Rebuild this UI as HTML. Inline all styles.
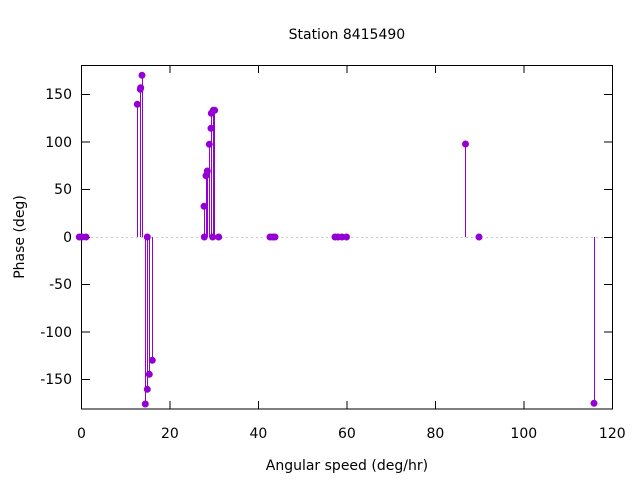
<!DOCTYPE html>
<html><head><style>body{margin:0;background:#fff}svg{display:block}text{font-family:"DejaVu Sans","Liberation Sans",sans-serif;font-size:14px;fill:#000}</style></head>
<body>
<svg width="640" height="480" viewBox="0 0 640 480">
<rect width="640" height="480" fill="#fff"/>
<line x1="81.5" y1="237.5" x2="612.3" y2="237.5" stroke="#999" stroke-width="1" stroke-dasharray="1,4"/>
<g stroke="#000" stroke-width="1">
<rect x="81.5" y="65.5" width="531" height="343.5" fill="none"/>
<line x1="81.5" y1="94.5" x2="90" y2="94.5"/><line x1="612.5" y1="94.5" x2="604" y2="94.5"/>
<line x1="81.5" y1="142" x2="90" y2="142"/><line x1="612.5" y1="142" x2="604" y2="142"/>
<line x1="81.5" y1="189.5" x2="90" y2="189.5"/><line x1="612.5" y1="189.5" x2="604" y2="189.5"/>
<line x1="81.5" y1="237.5" x2="90" y2="237.5"/><line x1="612.5" y1="237.5" x2="604" y2="237.5"/>
<line x1="81.5" y1="284.5" x2="90" y2="284.5"/><line x1="612.5" y1="284.5" x2="604" y2="284.5"/>
<line x1="81.5" y1="332" x2="90" y2="332"/><line x1="612.5" y1="332" x2="604" y2="332"/>
<line x1="81.5" y1="379.5" x2="90" y2="379.5"/><line x1="612.5" y1="379.5" x2="604" y2="379.5"/>
<line x1="170" y1="409" x2="170" y2="401"/><line x1="170" y1="65" x2="170" y2="73"/>
<line x1="258.5" y1="409" x2="258.5" y2="401"/><line x1="258.5" y1="65" x2="258.5" y2="73"/>
<line x1="347" y1="409" x2="347" y2="401"/><line x1="347" y1="65" x2="347" y2="73"/>
<line x1="435.5" y1="409" x2="435.5" y2="401"/><line x1="435.5" y1="65" x2="435.5" y2="73"/>
<line x1="524" y1="409" x2="524" y2="401"/><line x1="524" y1="65" x2="524" y2="73"/>
</g>
<g text-anchor="end">
<text x="72" y="99">150</text><text x="72" y="147">100</text><text x="72" y="194">50</text><text x="72" y="242">0</text>
<text x="72" y="289">-50</text><text x="72" y="337">-100</text><text x="72" y="384">-150</text>
</g>
<g text-anchor="middle">
<text x="81.5" y="438">0</text><text x="169.9" y="438">20</text><text x="258.4" y="438">40</text><text x="346.9" y="438">60</text>
<text x="435.4" y="438">80</text><text x="523.8" y="438">100</text><text x="612.3" y="438">120</text>
<text x="346.9" y="470">Angular speed (deg/hr)</text>
<text x="346.9" y="39">Station 8415490</text>
<text transform="translate(24,237) rotate(-90)">Phase (deg)</text>
</g>
<g stroke="#9400d3" stroke-width="1" fill="#9400d3">
<line x1="137.5" y1="237" x2="137.5" y2="104.3"/><line x1="140.5" y1="237" x2="140.5" y2="88"/><line x1="142.5" y1="237" x2="142.5" y2="75.3"/>
<line x1="145.5" y1="237" x2="145.5" y2="404"/><line x1="147.5" y1="237" x2="147.5" y2="389.3"/><line x1="149.5" y1="237" x2="149.5" y2="374.3"/><line x1="152.5" y1="237" x2="152.5" y2="360.3"/>
<line x1="204.5" y1="237" x2="204.5" y2="206.3"/><line x1="206.5" y1="237" x2="206.5" y2="175.7"/><line x1="207.5" y1="237" x2="207.5" y2="171"/><line x1="209.5" y1="237" x2="209.5" y2="144.3"/><line x1="211.5" y1="237" x2="211.5" y2="113.3"/><line x1="213.5" y1="237" x2="213.5" y2="110.3"/><line x1="214.5" y1="237" x2="214.5" y2="110.3"/>
<line x1="465.5" y1="237" x2="465.5" y2="144"/><line x1="594.5" y1="237" x2="594.5" y2="403.3"/>
<g stroke="none">
<circle cx="79.3" cy="237" r="3.5"/><circle cx="82" cy="237" r="3.5"/><circle cx="86" cy="237" r="3.5"/>
<circle cx="137.3" cy="104.3" r="3.5"/><circle cx="140.3" cy="89.3" r="3.5"/><circle cx="140.7" cy="87.7" r="3.5"/><circle cx="142" cy="75.3" r="3.5"/>
<circle cx="147.3" cy="237" r="3.5"/><circle cx="145.3" cy="404" r="3.5"/><circle cx="147.3" cy="389.3" r="3.5"/><circle cx="149.3" cy="374.3" r="3.5"/><circle cx="152.3" cy="360.3" r="3.5"/>
<circle cx="204.3" cy="237" r="3.5"/><circle cx="204" cy="206.3" r="3.5"/><circle cx="206" cy="175.7" r="3.5"/><circle cx="207.3" cy="171" r="3.5"/><circle cx="209.3" cy="144.3" r="3.5"/><circle cx="211" cy="128.3" r="3.5"/><circle cx="211.3" cy="113.3" r="3.5"/><circle cx="213.3" cy="110.3" r="3.5"/><circle cx="214.7" cy="110.3" r="3.5"/><circle cx="212.7" cy="237" r="3.5"/><circle cx="218.7" cy="237" r="3.5"/>
<circle cx="270" cy="237" r="3.5"/><circle cx="272.5" cy="237" r="3.5"/><circle cx="275" cy="237" r="3.5"/>
<circle cx="335" cy="237" r="3.5"/><circle cx="338" cy="237" r="3.5"/><circle cx="342" cy="237" r="3.5"/><circle cx="346.5" cy="237" r="3.5"/>
<circle cx="465.5" cy="144" r="3.5"/><circle cx="479" cy="237" r="3.5"/><circle cx="594" cy="403.3" r="3.5"/>
</g></g>
</svg>
</body></html>
